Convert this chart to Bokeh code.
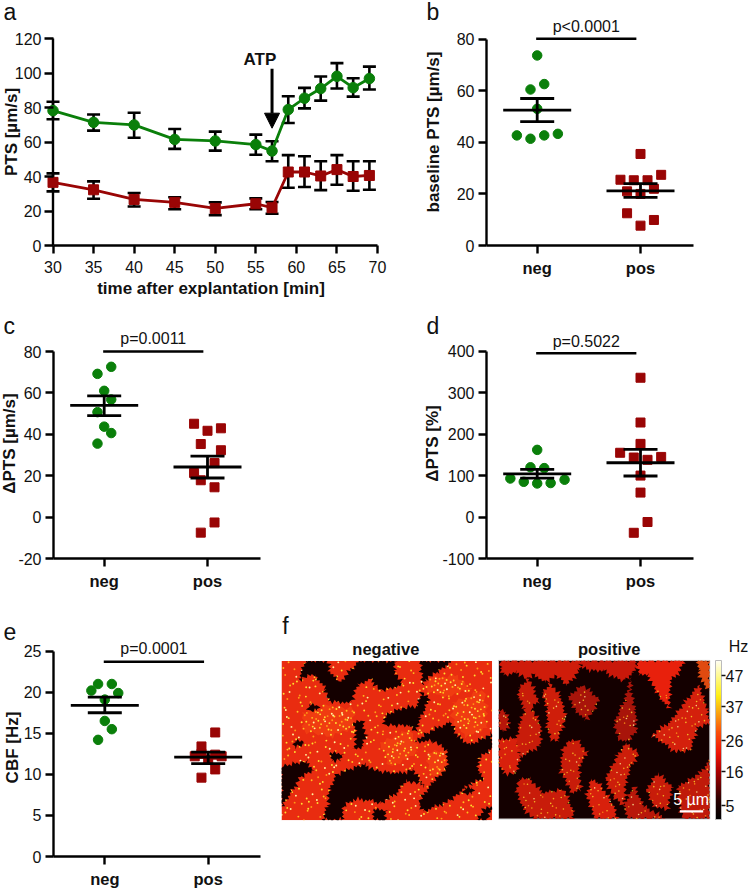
import numpy as np
from bokeh.embed import file_html
from bokeh.resources import INLINE
from bokeh.plotting import figure
from bokeh.layouts import column, row
from bokeh.models import FixedTicker, Title, Arrow, NormalHead, ColorBar, LinearColorMapper, Range1d, AllLabels
from bokeh.core.properties import value

GREEN = "#0a7f0a"
RED = "#990505"
FONT = "Liberation Sans"

# ---------- panel a ----------
minutes = [30, 35, 40, 45, 50, 55, 57, 59, 61, 63, 65, 67, 69]
a_green = [78.2, 71.4, 69.9, 61.5, 60.6, 58.5, 54.8, 78.8, 85.4, 91.0, 98.1, 91.5, 96.8]
a_green_hi = [83.3, 75.9, 77.0, 67.5, 66.0, 64.3, 60.4, 86.5, 91.4, 98.0, 105.7, 97.0, 103.7]
a_green_lo = [73.2, 66.6, 62.5, 56.0, 55.0, 52.6, 48.8, 71.0, 79.5, 84.0, 91.0, 86.3, 90.4]
a_red = [36.6, 32.3, 26.7, 25.0, 21.5, 24.2, 21.9, 42.6, 42.6, 40.3, 44.0, 40.0, 40.6]
a_red_hi = [41.8, 37.2, 30.4, 28.0, 25.0, 27.3, 25.2, 52.4, 51.7, 48.8, 52.4, 48.8, 48.8]
a_red_lo = [31.4, 27.1, 22.6, 21.0, 17.6, 21.0, 18.4, 33.5, 33.9, 32.1, 35.2, 31.7, 32.3]

# ---------- panels b-e: values, jitter, mean, sem limits ----------
groups = ["neg", "pos"]
b_neg = [73.7, 62.6, 60.5, 53.0, 42.7, 41.4, 42.7, 43.3]
b_neg_j = [0, .068, -.065, 0, -.197, -.065, .068, .2]
b_pos = [35.5, 27.4, 25.5, 25.3, 25.3, 21.0, 22.0, 20.0, 12.5, 9.9, 7.7]
b_pos_j = [0, .2, -.194, -.065, .068, -.13, .13, 0, -.13, .13, 0]
b_stats = [(52.5, 57.0, 48.0), (21.2, 24.0, 18.7)]
c_neg = [72.6, 69.2, 61.0, 56.8, 50.7, 43.7, 40.6, 35.5]
c_neg_j = [.068, -.065, 0, .068, -.065, 0, .068, -.065]
c_pos = [45.1, 41.7, 42.9, 35.3, 32.3, 26.1, 21.3, 17.8, 14.4, -2.6, -7.5]
c_pos_j = [-.13, 0, .13, -.065, .13, .068, -.13, -.065, .068, .068, -.065]
c_stats = [(54.0, 58.6, 49.0), (24.2, 29.5, 18.9)]
d_neg = [162, 120, 118, 93, 85, 81, 82, 90]
d_neg_j = [0, -.065, .068, -.26, -.13, 0, .13, .265]
d_pos = [336, 228, 176.5, 155, 143.6, 138, 145, 100, 59, -12, -38]
d_pos_j = [0, 0, 0, -.197, -.065, .068, .2, 0, 0, .068, -.065]
d_stats = [(104, 115, 94), (131, 163, 99)]
e_neg = [21.0, 21.0, 20.2, 19.9, 19.1, 16.5, 15.5, 14.2]
e_neg_j = [-.065, .068, -.13, .13, 0, 0, .068, -.065]
e_pos = [15.1, 13.4, 12.2, 12.2, 12.5, 12.4, 11.8, 10.6, 9.6]
e_pos_j = [.068, -.065, -.13, .13, -.065, .068, 0, .068, -.065]
e_stats = [(18.4, 19.4, 17.5), (12.1, 12.7, 11.3)]

colorbar_ticks = [47, 37, 26, 16, 5]

neg_dark = [
    [(105,152),(170,152),(178,185),(208,218),(265,152),(375,152),(370,180),(395,225),(330,240),(300,205),(260,225),(240,278),(175,272),(165,235),(130,190),(85,207)],
    [(450,152),(545,152),(500,185),(465,205),(458,225)],
    [(342,318),(385,298),(440,288),(455,245),(472,262),(465,295),(445,325),(445,345),(432,362),(415,345),(345,345)],
    [(435,395),(470,370),(540,335),(560,380),(600,405),(665,372),(665,415),(622,445),(625,490),(640,505),(600,520),(540,570),(460,605),(445,580),(470,540),(490,515),(530,475),(530,420),(490,392)],
    [(280,462),(200,490),(175,540),(170,590),(155,632),(215,632),(220,590),(250,570),(300,572),(330,582),(375,555),(405,515),(440,520),(462,530),(430,478),(385,490),(320,482)],
    [(33,470),(105,455),(130,480),(90,500),(60,550),(33,590)],
    [(250,340),(275,330),(285,380),(275,410),(250,420),(258,380)],
    [(115,285),(142,285),(140,300),(118,302)],
    [(180,430),(215,430),(212,450),(182,450)],
    [(70,395),(100,392),(98,405),(72,408)],
    [(582,535),(606,535),(604,552),(584,552)],
    [(310,600),(345,600),(345,632),(310,632)],
    [(640,600),(665,590),(650,632),(620,632)],
]
pos_blobs = [
    ([(690,150),(930,150),(925,180),(890,225),(860,195),(820,215),(790,190),(770,205),(740,185),(700,195),(690,170)], "#cf1c0a"),
    ([(930,150),(1100,150),(1090,185),(1060,210),(1030,200),(1000,180),(960,180),(935,170)], "#c9180a"),
    ([(1100,150),(1240,150),(1225,185),(1200,210),(1195,295),(1175,270),(1150,230),(1135,195),(1105,190)], "#e8200c"),
    ([(1282,150),(1318,150),(1318,240),(1295,215),(1285,180)], "#e04a10"),
    ([(745,235),(775,205),(805,275),(780,290),(810,345),(810,405),(770,430),(750,440),(735,400),(748,340),(765,295),(745,265)], "#c81c0a"),
    ([(684,300),(705,305),(718,340),(700,365),(684,350)], "#b8160a"),
    ([(684,390),(735,385),(750,440),(735,490),(700,490),(684,460)], "#d8200c"),
    ([(815,250),(840,220),(870,260),(885,320),(860,395),(840,385),(830,340),(830,290)], "#cf1e0a"),
    ([(895,260),(935,225),(985,265),(970,300),(945,330),(915,300)], "#a8140a"),
    ([(1080,200),(1065,260),(1030,340),(1040,385),(1065,395),(1075,395),(1100,360),(1095,300),(1085,250)], "#a8140a"),
    ([(1065,400),(1105,430),(1080,470),(1065,520),(1060,590),(1030,560),(1005,510),(1040,440)], "#cc1e0a"),
    ([(1285,225),(1310,300),(1318,340),(1280,350),(1260,420),(1215,425),(1145,375),(1200,335),(1245,275)], "#d4200c"),
    ([(895,395),(920,390),(950,430),(925,470),(930,540),(905,550),(870,480),(878,415)], "#c81c0a"),
    ([(745,510),(775,505),(815,550),(880,540),(910,610),(905,628),(790,628),(755,590),(738,540)], "#c81c0a"),
    ([(960,510),(985,520),(1030,590),(1040,628),(975,628),(950,560)], "#d8200c"),
    ([(1060,590),(1090,530),(1120,590),(1185,628),(1075,628)], "#b8180a"),
    ([(1130,540),(1160,490),(1205,530),(1190,600),(1150,590)], "#c81c0a"),
    ([(1225,530),(1290,490),(1318,450),(1318,628),(1240,628),(1225,580)], "#c01a0a"),
]
neg_glow = [
    [(95,310),(180,285),(250,300),(250,350),(180,380),(100,360)],
    [(545,280),(640,240),(650,350),(590,380),(550,340)],
    [(470,205),(560,195),(600,240),(520,260),(470,240)],
    [(330,400),(420,360),(440,430),(360,470)],
    [(470,430),(530,420),(530,490),(480,500)],
]


def jag(pts, step=6):
    """Feathered outline for a traced shape."""
    bumps = [4, -2, 7, -3, 2, -5, 9, -1, 3, -6, 5, 1, -4, 11, -2, 6, -7, 2, -3]
    out, k = [], 0
    n = len(pts)
    for i in range(n):
        x0, y0 = pts[i]
        x1, y1 = pts[(i + 1) % n]
        L = max(np.hypot(x1 - x0, y1 - y0), 1)
        nx, ny = (y1 - y0) / L, -(x1 - x0) / L
        for s in range(int(L // step) + 1):
            t = s * step / L
            b = bumps[k % len(bumps)]
            k += 1
            out.append((x0 + (x1 - x0) * t + nx * b, y0 + (y1 - y0) * t + ny * b))
    return [p[0] for p in out], [p[1] for p in out]


def inside(x, y, poly):
    px, py = np.array(poly).T
    c = False
    for i in range(len(px)):
        j = i - 1
        if (py[i] > y) != (py[j] > y) and x < (px[j] - px[i]) * (y - py[i]) / (py[j] - py[i]) + px[i]:
            c = not c
    return c


def halton(i, b):
    f, r = 1.0, 0.0
    while i > 0:
        f /= b
        r += f * (i % b)
        i //= b
    return r


def base_fig(width, height, left, right, top, bottom, xr, yr, panel_letter, letter_x, letter_cy):
    p = figure(width=width, height=height, min_border_left=left, min_border_right=right,
               min_border_top=top, min_border_bottom=bottom, x_range=Range1d(*xr), y_range=Range1d(*yr),
               output_backend="svg", toolbar_location=None, tools="")
    # panel letter: vertically centred on canvas px letter_cy, left edge at canvas px letter_x
    p.title = Title(text=panel_letter, align="left", offset=letter_x - left, standoff=2 * (top - letter_cy) - 28,
                    vertical_align="middle", text_font=FONT, text_font_size="23px", text_font_style="normal",
                    text_color="#111111", text_line_height=0.4)
    p.grid.visible = False
    p.outline_line_color = None
    p.background_fill_color = "white"
    return p


def style_axes(p):
    for ax in list(p.xaxis) + list(p.yaxis):
        ax.axis_line_width = 2.4
        ax.major_tick_line_width = 2.4
        ax.major_tick_out = 8
        ax.major_tick_in = 0
        ax.minor_tick_line_color = None
        ax.major_label_text_font = FONT
        ax.major_label_text_font_size = "16px"
        ax.major_label_text_color = "#111111"
        ax.axis_label_text_font = FONT
        ax.axis_label_text_font_size = "17px"
        ax.axis_label_text_font_style = "bold"
        ax.axis_label_text_color = "#111111"


def scatter_panel(width, height, left, right, top, bottom, xpx, ypx, ticks, ylabel,
                  neg, neg_j, pos, pos_j, stats, p_text, p_y, p_ty, bar_x, yl_off, panel_letter, lx, ly):
    """xpx: px of the two categories; ypx: px of ticks[0] and ticks[-1]."""
    unit = xpx[1] - xpx[0]
    fl, fr = left, width - right
    x0 = 1 + (fl - xpx[0]) / unit
    x1 = 2 + (fr - xpx[1]) / unit
    per = (ticks[-1] - ticks[0]) / (ypx[1] - ypx[0])
    y_top = ticks[-1] + per * (top - ypx[1])
    p = base_fig(width, height, left, right, top, bottom, (x0, x1), (ticks[0], y_top), panel_letter, lx, ly)
    p.xaxis.ticker = FixedTicker(ticks=[1, 2])
    p.xaxis.major_label_overrides = {1: groups[0], 2: groups[1]}
    p.yaxis.ticker = FixedTicker(ticks=ticks)
    p.yaxis.major_label_overrides = {t: str(t) for t in ticks}
    p.yaxis.bounds = (ticks[0], ticks[-1])
    p.yaxis.axis_label = ylabel
    style_axes(p)
    p.xaxis.major_label_text_font_style = "bold"
    p.xaxis.major_label_text_font_size = "16.5px"
    p.xaxis.major_label_standoff = 5
    p.yaxis.major_label_standoff = 4
    p.yaxis.axis_label_standoff = yl_off
    p.scatter([1 + j for j in neg_j], neg, marker="circle", size=9.5, color=GREEN)
    p.scatter([2 + j for j in pos_j], pos, marker="square", size=9, color=RED)
    for i, (m, hi, lo) in enumerate(stats):
        p.segment([i + 1], [lo], [i + 1], [hi], line_color="black", line_width=2.8)
        p.scatter([i + 1], [m], marker="dash", size=68, line_color="black", line_width=2.8)
        p.scatter([i + 1, i + 1], [hi, lo], marker="dash", size=34, line_color="black", line_width=2.8)
    p.segment([bar_x[0]], [p_y], [bar_x[1]], [p_y], line_color="black", line_width=2.4)
    p.text([sum(bar_x) / 2], [p_ty], text=[p_text], text_font=value(FONT), text_font_size="16px",
           text_align="center", text_baseline="middle", text_color="#111111")
    return p


SHIFT = 17

# ---------- a ----------
h_a = 310
pxx = (377 - 52.5) / 40
x_left = 30 - (52.5 - 44) / pxx
pyy = 120 / (245 - 38)
pa = base_fig(405 + SHIFT, h_a, 44 + SHIFT, 405 - 377, 18, h_a - 245, (x_left, 70), (0, pyy * (245 - 18)),
              "a", 3 + SHIFT, 11.5)
pa.xaxis.ticker = FixedTicker(ticks=list(range(30, 71, 5)))
pa.xaxis.bounds = (30, 70)
pa.yaxis.ticker = FixedTicker(ticks=list(range(0, 121, 20)))
pa.yaxis.bounds = (0, 120)
pa.xaxis.axis_label = "time after explantation [min]"
pa.yaxis.axis_label = "PTS [µm/s]"
style_axes(pa)
pa.yaxis.axis_line_color = None
pa.yaxis.major_tick_out = 0
pa.yaxis.major_tick_in = 9
pa.yaxis.major_label_standoff = 3
pa.yaxis.axis_label_standoff = -9
pa.xaxis.major_label_standoff = 7
pa.xaxis.axis_label_standoff = 3
pa.segment([30], [0], [30], [120], line_color="black", line_width=2.4)
for ys, hi, lo, col, mk, sz in [(a_green, a_green_hi, a_green_lo, GREEN, "circle", 10.5),
                                (a_red, a_red_hi, a_red_lo, RED, "square", 10)]:
    pa.segment(minutes, lo, minutes, hi, line_color="black", line_width=2.6)
    pa.scatter(minutes + minutes, hi + lo, marker="dash", size=13, line_color="black", line_width=2.6)
    pa.line(minutes, ys, line_color=col, line_width=2.8)
    pa.scatter(minutes, ys, marker=mk, size=sz, color=col)
pa.add_layout(Arrow(end=NormalHead(size=15, fill_color="black", line_color="black"), x_start=57, y_start=102.5,
                    x_end=57, y_end=68, line_width=3, line_color="black"))
pa.text([55.5], [108], text=["ATP"], text_font=value(FONT), text_font_style="bold", text_font_size="17px",
        text_align="center", text_baseline="middle", text_color="#111111")

# ---------- b c d e ----------
pb = scatter_panel(340, 310, 81, 340 - (693 - 405), 18, 65, (536.7 - 405, 640 - 405), (245, 38.7),
                   [0, 20, 40, 60, 80], "baseline PTS [µm/s]",
                   b_neg, b_neg_j, b_pos, b_pos_j, b_stats, "p<0.0001", 80.2, 84.8, (0.99, 1.96), 11, "b", 426 - 405, 11.5)
pc = scatter_panel(405 + SHIFT, 300, 53 + SHIFT, 405 - 260, 18, 300 - (558 - 310), (103.7 + SHIFT, 207 + SHIFT),
                   (558 - 310, 351 - 310), [-20, 0, 20, 40, 60, 80], "ΔPTS [µm/s]",
                   c_neg, c_neg_j, c_pos, c_pos_j, c_stats, "p=0.0011", 80, 86.2, (0.99, 1.96), -4, "c", 3 + SHIFT, 15.5)
pd = scatter_panel(340, 300, 81, 340 - (693 - 405), 18, 300 - (558 - 310), (536.7 - 405, 640 - 405),
                   (558 - 310, 350.7 - 310), [-100, 0, 100, 200, 300, 400], "ΔPTS [%]",
                   d_neg, d_neg_j, d_pos, d_pos_j, d_stats, "p=0.5022", 395, 423, (0.99, 1.96), -3, "d", 426 - 405, 15.5)
pe = scatter_panel(272 + SHIFT, 280, 53 + SHIFT, 272 - 260, 28, 33, (104.3 + SHIFT, 207.7 + SHIFT),
                   (857 - 610, 650.7 - 610), [0, 5, 10, 15, 20, 25], "CBF [Hz]",
                   e_neg, e_neg_j, e_pos, e_pos_j, e_stats, "p=0.0001", 23.7, 25.3, (0.99, 1.96), -1, "e", 3 + SHIFT, 16.5)

# ---------- f ----------
pf = base_fig(476, 280, 0, 0, 28, 33, (6, 6 + 476 * 3), (84 + 219 * 3, 84), "f", 281.7 - 272, 15.5)
pf.axis.visible = False
BG = "#140000"
L = (33, 152, 665, 632)
R = (684, 150, 1318, 628)
pf.quad(left=[L[0]], right=[L[2]], top=[L[1]], bottom=[L[3]], color="#e92c10", line_color=None)
gx, gy = zip(*[jag(g, 12) for g in neg_glow])
pf.patches(list(gx), list(gy), fill_color="#ff5c14", fill_alpha=0.35, line_color=None)

# bright speckle texture of the beating cilia
sx, sy, sc = [], [], []
shades = ["#ffe030", "#ffc020", "#fff6a0", "#ff9a18", "#ffe030"]
for i in range(1, 1500):
    x = L[0] + (L[2] - L[0]) * halton(i, 2)
    y = L[1] + (L[3] - L[1]) * halton(i, 3)
    if halton(i, 7) > 0.4 and not any(inside(x, y, g) for g in neg_glow):
        continue
    sx.append(x); sy.append(y); sc.append(shades[i % 5])
pf.scatter(sx, sy, marker="circle", size=1.9, color=sc, line_color=None)
dx, dy = zip(*[jag(h) for h in neg_dark])
pf.patches(list(dx), list(dy), fill_color=BG, line_color=None)
pf.quad(left=[0, L[2]], right=[L[0], 690], top=[140, 140], bottom=[640, 640], color="white", line_color=None)
pf.quad(left=[L[0]], right=[L[2]], top=[140], bottom=[L[1]], color="white", line_color=None)
pf.quad(left=[L[0]], right=[L[2]], top=[L[3]], bottom=[650], color="white", line_color=None)

pf.quad(left=[R[0]], right=[R[2]], top=[R[1]], bottom=[R[3]], color=BG, line_color="#d0d0d0", line_width=1)
blob_x, blob_y, blob_c = [], [], []
for poly, col in pos_blobs:
    jx, jy = jag(poly)
    blob_x.append([max(min(v, R[2]), R[0]) for v in jx])
    blob_y.append([max(min(v, R[3]), R[1]) for v in jy])
    blob_c.append(col)
pf.patches(blob_x, blob_y, fill_color=blob_c, line_color=None)
sx, sy, sc = [], [], []
for i in range(1, 1600):
    x = R[0] + (R[2] - R[0]) * halton(i, 2)
    y = R[1] + (R[3] - R[1]) * halton(i, 3)
    if y < 240 or halton(i, 7) > 0.45 or not any(inside(x, y, poly) for poly, _ in pos_blobs):
        continue
    sx.append(x); sy.append(y); sc.append(shades[i % 5])
pf.scatter(sx, sy, marker="circle", size=1.6, color=sc, line_color=None, alpha=0.8)

pf.segment([1228], [605], [1298], [605], line_color="white", line_width=2.2)
pf.text([1262], [570], text=["5 µm"], text_font=value(FONT), text_font_size="16px", text_align="center",
        text_baseline="middle", text_color="white")
for tx, txt in [(346, "negative"), (1016, "positive")]:
    pf.text([tx], [116], text=[txt], text_font=value(FONT), text_font_style="bold", text_font_size="16.5px",
            text_align="center", text_baseline="middle", text_color="#111111")
pf.text([1404], [108], text=["Hz"], text_font=value(FONT), text_font_size="16px", text_align="center",
        text_baseline="middle", text_color="#111111")

stops = [(0, (0, 0, 0)), (.12, (40, 0, 0)), (.3, (170, 0, 0)), (.42, (240, 20, 5)), (.55, (250, 80, 10)),
         (.68, (250, 170, 15)), (.78, (255, 240, 20)), (.9, (255, 250, 140)), (1, (255, 255, 245))]
palette = []
for i in range(256):
    t = i / 255
    rgb = [int(np.interp(t, [s[0] for s in stops], [s[1][c] for s in stops])) for c in range(3)]
    palette.append("#%02x%02x%02x" % tuple(rgb))
cb = ColorBar(color_mapper=LinearColorMapper(palette=palette, low=0.6, high=52), ticker=FixedTicker(ticks=colorbar_ticks),
              major_label_policy=AllLabels(), location=(715 - 272, 857 - 820), width=6, height=159, padding=0, margin=0,
              major_tick_in=0, major_tick_out=4, major_tick_line_color="#111111", major_tick_line_width=1.5,
              bar_line_color="#bbbbbb", bar_line_width=1, major_label_text_font=FONT,
              major_label_text_font_size="16px", major_label_text_color="#111111", label_standoff=0,
              background_fill_alpha=0, border_line_color=None, title=None)
pf.add_layout(cb)

layout = column(row(pa, pb, spacing=0), row(pc, pd, spacing=0), row(pe, pf, spacing=0),
                spacing=0, margin=(0, 0, 0, -SHIFT))
open("out.html", "w").write(file_html(layout, INLINE))
